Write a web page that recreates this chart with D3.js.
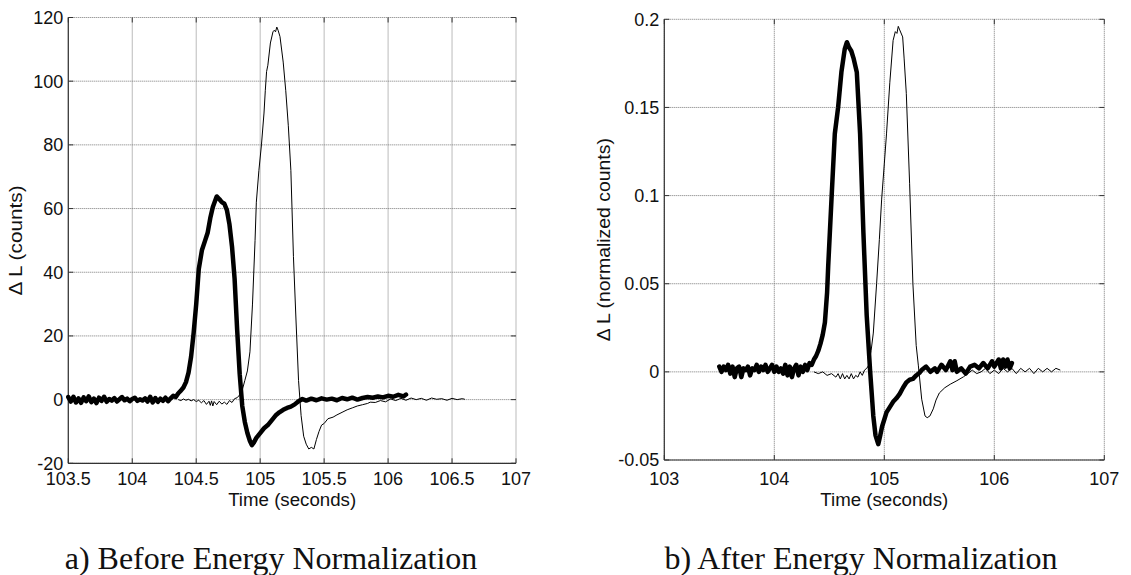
<!DOCTYPE html>
<html>
<head>
<meta charset="utf-8">
<script src="https://cdn.jsdelivr.net/npm/d3@7"></script>
<style>
  body { margin: 0; background: #fff; }
  svg text { font-family: Arial, "Liberation Sans", sans-serif; fill: #111; }
  svg text.caption { font-family: "Times New Roman", "Liberation Serif", serif; }
</style>
</head>
<body>
<div id="chart"></div>
<script>
// Tick values
const timeTicksA = [103.5, 104, 104.5, 105, 105.5, 106, 106.5, 107]
const countTicks = [-20, 0, 20, 40, 60, 80, 100, 120]
const timeTicksB = [103, 104, 105, 106, 107]
const normTicks = [-0.05, 0, 0.05, 0.1, 0.15, 0.2]

// a) before normalization, thick trace [time, counts]
const beforeThick = [
  [103.50,0.8],[103.52,-0.6],[103.54,0.9],[103.56,-0.9],[103.58,0.4],[103.60,-1.0],[103.62,0.7],[103.64,-0.5],
  [103.66,1.0],[103.68,-0.8],[103.70,0.3],[103.72,-1.1],[103.74,0.6],[103.76,-0.4],[103.78,0.9],[103.80,-0.7],
  [103.82,0.2],[103.84,-0.3],[103.86,0.5],[103.88,-0.6],[103.90,0.1],[103.92,0.8],[103.94,-0.2],[103.96,0.3],
  [103.98,-0.5],[104.00,0.2],[104.02,0.6],[104.04,-0.4],[104.06,0.1],[104.08,-0.3],[104.10,0.4],[104.12,-0.6],
  [104.14,0.9],[104.16,-0.9],[104.18,0.5],[104.20,-0.7],[104.22,0.3],[104.24,-0.4],[104.26,0.6],[104.28,-0.5],
  [104.30,0.4],[104.32,1.2],[104.34,0.8],[104.36,2.0],[104.38,2.8],[104.40,3.8],[104.42,5.5],[104.44,8.5],
  [104.46,13.5],[104.48,21],[104.50,30],[104.52,41],[104.545,47],[104.57,50],[104.59,52.5],[104.61,57],
  [104.63,60.5],[104.66,63.8],[104.68,63],[104.70,62],[104.72,61.5],[104.74,59.5],[104.76,55],[104.78,48],
  [104.80,38],[104.82,22],[104.84,8],[104.86,-2],[104.88,-7],[104.90,-10.5],[104.92,-13],[104.935,-14.3],
  [104.95,-13.5],[104.97,-12],[105.00,-10.5],[105.03,-9],[105.06,-8],[105.09,-6.5],[105.12,-5],[105.15,-4],
  [105.18,-3.2],[105.21,-2.6],[105.24,-2.2],[105.27,-1.5],[105.30,-0.5],[105.33,0.2],[105.36,-0.3],[105.40,0.3],
  [105.44,-0.2],[105.48,0.4],[105.52,0.0],[105.56,0.3],[105.60,-0.2],[105.64,0.5],[105.68,0.1],[105.72,0.6],
  [105.76,0.0],[105.80,0.5],[105.84,0.8],[105.88,0.6],[105.92,1.0],[105.96,0.7],[106.00,1.2],[106.04,0.9],
  [106.08,1.5],[106.12,1.0],[106.14,1.6]
]

// a) before normalization, thin trace [time, counts]
const beforeThin = [
  [104.36,0.0],[104.38,-0.3],[104.40,0.2],[104.42,-0.2],[104.44,0.1],[104.46,-0.4],[104.48,0.0],[104.50,-0.6],
  [104.52,-0.2],[104.54,-1.0],[104.56,-0.3],[104.58,-1.5],[104.60,-0.5],[104.61,-1.8],[104.62,-0.4],[104.63,-2.0],
  [104.64,-0.6],[104.66,-1.6],[104.68,-0.5],[104.70,-1.4],[104.72,-0.8],[104.74,-1.5],[104.76,-0.3],[104.78,-0.9],
  [104.80,0.3],[104.82,0.6],[104.84,1.5],[104.86,3],[104.88,6],[104.90,9],[104.92,15],[104.94,30],
  [104.96,50],[104.97,62],[104.99,72],[105.01,80],[105.03,90],[105.04,97],[105.05,103],[105.06,105],
  [105.08,112],[105.10,115.5],[105.11,116],[105.12,115.5],[105.13,117],[105.14,116],[105.155,114],[105.18,106],
  [105.20,97],[105.22,86],[105.24,72],[105.26,45],[105.28,25],[105.30,6],[105.32,-5],[105.34,-11.5],
  [105.36,-14],[105.38,-15.5],[105.40,-15],[105.42,-15.5],[105.44,-12.5],[105.46,-10],[105.48,-8],[105.50,-7.5],
  [105.53,-6],[105.57,-5.5],[105.60,-4.8],[105.64,-4],[105.68,-3.2],[105.72,-2.6],[105.76,-2],[105.80,-1.6],
  [105.84,-1.2],[105.86,-0.8],[105.90,-0.9],[105.94,-0.3],[105.98,-0.7],[106.02,0.2],[106.06,-0.3],[106.10,0.4],
  [106.14,-0.2],[106.18,0.5],[106.22,0.0],[106.26,0.4],[106.30,-0.2],[106.34,0.5],[106.38,0.1],[106.42,0.3],
  [106.46,-0.2],[106.50,0.4],[106.54,0.0],[106.58,0.3],[106.60,0.1]
]

// b) after normalization, thick trace [time, normalized counts]
const afterThick = [
  [103.50,0.003],[103.52,0.0],[103.54,0.003],[103.56,0.001],[103.58,0.004],[103.60,-0.001],[103.62,0.003],[103.64,-0.003],
  [103.66,0.002],[103.68,0.003],[103.70,-0.003],[103.72,0.002],[103.74,0.001],[103.76,0.003],[103.78,-0.002],[103.80,0.002],
  [103.82,0.001],[103.84,0.004],[103.86,0.0],[103.88,0.003],[103.90,0.001],[103.92,0.004],[103.94,0.0],[103.96,0.002],
  [103.98,0.004],[104.00,0.0],[104.02,0.003],[104.04,0.0],[104.06,0.002],[104.08,-0.001],[104.10,0.004],[104.12,-0.002],
  [104.14,0.003],[104.16,-0.003],[104.18,0.002],[104.20,0.004],[104.22,-0.002],[104.24,0.003],[104.26,0.0],[104.28,0.004],
  [104.30,0.001],[104.32,0.005],[104.34,0.004],[104.36,0.007],[104.38,0.009],[104.40,0.012],[104.42,0.016],[104.44,0.021],
  [104.46,0.028],[104.48,0.045],[104.49,0.06],[104.52,0.098],[104.55,0.135],[104.58,0.15],[104.61,0.17],[104.64,0.183],
  [104.66,0.187],[104.68,0.184],[104.70,0.182],[104.72,0.178],[104.75,0.17],[104.78,0.135],[104.81,0.079],[104.84,0.032],
  [104.87,0.0015],[104.90,-0.025],[104.92,-0.036],[104.945,-0.041],[104.96,-0.037],[104.98,-0.031],[105.00,-0.027],[105.02,-0.023],
  [105.05,-0.02],[105.08,-0.017],[105.11,-0.015],[105.14,-0.0125],[105.17,-0.009],[105.20,-0.006],[105.23,-0.0045],[105.26,-0.004],
  [105.29,-0.002],[105.32,-0.0005],[105.34,0.001],[105.38,0.003],[105.42,0.0],[105.46,0.002],[105.48,0.0],[105.52,0.004],
  [105.56,0.001],[105.60,0.006],[105.62,0.001],[105.64,0.006],[105.66,0.0],[105.70,0.002],[105.74,-0.001],[105.78,0.003],
  [105.82,0.004],[105.86,0.002],[105.90,0.005],[105.94,0.002],[105.98,0.006],[106.00,0.003],[106.04,0.007],[106.06,0.002],
  [106.08,0.007],[106.10,0.003],[106.12,0.007],[106.14,0.002],[106.16,0.005]
]

// b) after normalization, thin trace [time, normalized counts]
const afterThin = [
  [104.36,0.0],[104.40,-0.001],[104.44,0.0],[104.48,-0.002],[104.52,-0.001],[104.56,-0.003],[104.58,-0.001],[104.60,-0.004],
  [104.62,-0.001],[104.64,-0.004],[104.66,-0.002],[104.68,-0.004],[104.70,-0.001],[104.72,-0.004],[104.74,-0.002],[104.76,-0.003],
  [104.78,0.0],[104.80,-0.002],[104.82,0.001],[104.84,0.002],[104.855,0.0034],[104.88,0.012],[104.90,0.022],[104.93,0.05],
  [104.955,0.075],[104.976,0.098],[105.00,0.118],[105.02,0.135],[105.05,0.164],[105.08,0.188],[105.10,0.193],[105.115,0.192],
  [105.127,0.196],[105.14,0.194],[105.167,0.19],[105.18,0.178],[105.20,0.158],[105.23,0.107],[105.26,0.05],[105.29,0.015],
  [105.31,0.0034],[105.34,-0.0155],[105.37,-0.025],[105.39,-0.026],[105.415,-0.025],[105.445,-0.021],[105.47,-0.016],[105.50,-0.012],
  [105.55,-0.009],[105.60,-0.007],[105.66,-0.005],[105.72,-0.0028],[105.76,-0.001],[105.80,0.001],[105.84,-0.001],[105.88,0.0],
  [105.92,0.002],[105.96,-0.001],[106.00,0.001],[106.04,-0.001],[106.08,0.002],[106.12,0.0],[106.16,0.002],[106.20,-0.001],
  [106.24,0.002],[106.28,0.0],[106.32,0.002],[106.36,-0.001],[106.40,0.002],[106.44,0.0],[106.48,0.002],[106.52,0.0],
  [106.56,0.002],[106.60,0.001]
]

const width = 1131
const height = 575

const svg = d3.select("#chart").append("svg")
    .attr("width", width)
    .attr("height", height)

// Two panels, side by side
const panels = [
  { left: 68.3, right: 516, top: 17.5, bottom: 463.3,
    xDomain: [103.5, 107], yDomain: [-20, 120], xTicks: timeTicksA, yTicks: countTicks,
    thick: beforeThick, thin: beforeThin,
    ylabel: "\u0394 L (counts)", ylabelX: 21.5, ylabelLen: 110,
    caption: "a) Before Energy Normalization", captionX: 271 },
  { left: 664.3, right: 1104.3, top: 19.3, bottom: 460,
    xDomain: [103, 107], yDomain: [-0.05, 0.2], xTicks: timeTicksB, yTicks: normTicks,
    thick: afterThick, thin: afterThin,
    ylabel: "\u0394 L (normalized counts)", ylabelX: 609.5, ylabelLen: 203,
    caption: "b) After Energy Normalization", captionX: 861 }
]

const tickLen = 5

panels.forEach(p => {
  const x = d3.scaleLinear().domain(p.xDomain).range([p.left, p.right])
  const y = d3.scaleLinear().domain(p.yDomain).range([p.bottom, p.top])
  const g = svg.append("g")

  // dotted grid
  g.selectAll(".vgrid").data(p.xTicks).join("line")
    .attr("x1", d => x(d)).attr("x2", d => x(d))
    .attr("y1", p.top).attr("y2", p.bottom)
    .attr("stroke", "#777").attr("stroke-width", 1)
    .attr("stroke-dasharray", "1,1")
  g.selectAll(".hgrid").data(p.yTicks).join("line")
    .attr("x1", p.left).attr("x2", p.right)
    .attr("y1", d => y(d)).attr("y2", d => y(d))
    .attr("stroke", "#777").attr("stroke-width", 1)
    .attr("stroke-dasharray", "1,1")

  // inward ticks on all four sides
  const ticks = g.append("g").attr("stroke", "#333").attr("stroke-width", 1)
  p.xTicks.forEach(t => {
    ticks.append("line").attr("x1", x(t)).attr("x2", x(t)).attr("y1", p.bottom).attr("y2", p.bottom - tickLen)
    ticks.append("line").attr("x1", x(t)).attr("x2", x(t)).attr("y1", p.top).attr("y2", p.top + tickLen)
  })
  p.yTicks.forEach(t => {
    ticks.append("line").attr("x1", p.left).attr("x2", p.left + tickLen).attr("y1", y(t)).attr("y2", y(t))
    ticks.append("line").attr("x1", p.right).attr("x2", p.right - tickLen).attr("y1", y(t)).attr("y2", y(t))
  })

  // solid left and bottom axis lines
  g.append("line").attr("x1", p.left).attr("x2", p.left).attr("y1", p.top).attr("y2", p.bottom)
    .attr("stroke", "#333").attr("stroke-width", 1.2)
  g.append("line").attr("x1", p.left).attr("x2", p.right).attr("y1", p.bottom).attr("y2", p.bottom)
    .attr("stroke", "#333").attr("stroke-width", 1.2)

  // tick labels
  g.selectAll(".xlab").data(p.xTicks).join("text")
    .attr("x", d => x(d)).attr("y", 485)
    .attr("text-anchor", "middle").attr("font-size", 18)
    .text(d => String(d))
  g.selectAll(".ylab").data(p.yTicks).join("text")
    .attr("x", p.left - 5).attr("y", d => y(d)).attr("dy", "0.36em")
    .attr("text-anchor", "end").attr("font-size", 18)
    .text(d => String(d))

  // axis titles
  g.append("text")
    .attr("x", (p.left + p.right) / 2).attr("y", 506)
    .attr("text-anchor", "middle").attr("font-size", 18)
    .attr("textLength", 128).attr("lengthAdjust", "spacingAndGlyphs")
    .text("Time (seconds)")
  g.append("text")
    .attr("transform", "translate(" + p.ylabelX + "," + ((p.top + p.bottom) / 2) + ") rotate(-90)")
    .attr("text-anchor", "middle").attr("font-size", 18)
    .attr("textLength", p.ylabelLen).attr("lengthAdjust", "spacingAndGlyphs")
    .text(p.ylabel)

  // traces: thin first, thick on top
  const line = d3.line().x(d => x(d[0])).y(d => y(d[1]))
  g.append("path").datum(p.thin)
    .attr("d", line).attr("fill", "none")
    .attr("stroke", "#000").attr("stroke-width", 1)
  g.append("path").datum(p.thick)
    .attr("d", line).attr("fill", "none")
    .attr("stroke", "#000").attr("stroke-width", 4.5)
    .attr("stroke-linejoin", "round").attr("stroke-linecap", "round")

  // caption
  g.append("text").attr("class", "caption")
    .attr("x", p.captionX).attr("y", 569)
    .attr("text-anchor", "middle").attr("font-size", 32)
    .text(p.caption)
})
</script>
</body>
</html>
